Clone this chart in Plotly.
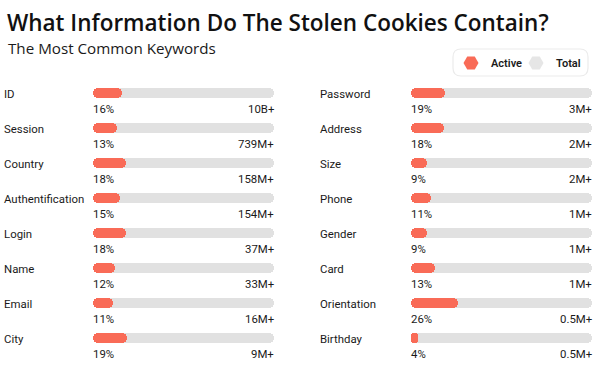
import plotly.graph_objects as go

# ---- data ----
left_keys = ["ID", "Session", "Country", "Authentification", "Login", "Name", "Email", "City"]
left_active = [16, 13, 18, 15, 18, 12, 11, 19]
left_total = ["10B+", "739M+", "158M+", "154M+", "37M+", "33M+", "16M+", "9M+"]

right_keys = ["Password", "Address", "Size", "Phone", "Gender", "Card", "Orientation", "Birthday"]
right_active = [19, 18, 9, 11, 9, 13, 26, 4]
right_total = ["3M+", "2M+", "2M+", "1M+", "1M+", "1M+", "0.5M+", "0.5M+"]

FULL = 100

W, H = 600, 375
ORANGE = "#F96B57"
GRAY = "#E1E1E1"
TXT = "#1A1A1A"
FONT = "Roboto"

fig = go.Figure()

BW = 0.27


def add_panel(keys, active, xa, ya):
    n = len(keys)
    fig.add_trace(go.Bar(
        y=keys, x=[FULL] * n, base=[0] * n, orientation="h", xaxis=xa, yaxis=ya,
        marker=dict(color=GRAY, cornerradius="50%", line_width=0),
        width=BW, showlegend=False, hoverinfo="skip"))
    fig.add_trace(go.Bar(
        y=keys, x=active, base=[0] * n, orientation="h", xaxis=xa, yaxis=ya,
        marker=dict(color=ORANGE, cornerradius="50%", line_width=0),
        width=BW, showlegend=False, hoverinfo="skip"))


add_panel(left_keys, left_active, "x", "y")
add_panel(right_keys, right_active, "x2", "y2")

# legend entries
fig.add_trace(go.Scatter(x=[None], y=[None], mode="markers", name="Active",
                         marker=dict(symbol="hexagon2", size=15, color=ORANGE)))
fig.add_trace(go.Scatter(x=[None], y=[None], mode="markers", name="Total",
                         marker=dict(symbol="hexagon2", size=15, color="#E6E6E6")))

annotations = []
FS = 11.4


def add_labels(keys, active, total, xref, yref, label_x):
    for k, a, t in zip(keys, active, total):
        annotations.append(dict(text=k, x=label_x, xref="paper", y=k, yref=yref,
                                xanchor="left", yanchor="middle", yshift=-1, showarrow=False,
                                font=dict(family=FONT, size=FS, color=TXT)))
        annotations.append(dict(text=f"{a}%", x=0, xref=xref, y=k, yref=yref, xshift=-2,
                                xanchor="left", yanchor="middle", yshift=-16, showarrow=False,
                                font=dict(family=FONT, size=FS, color=TXT)))
        annotations.append(dict(text=t, x=FULL, xref=xref, y=k, yref=yref, xshift=2,
                                xanchor="right", yanchor="middle", yshift=-16, showarrow=False,
                                font=dict(family=FONT, size=FS, color=TXT)))


add_labels(left_keys, left_active, left_total, "x", "y", 2 / W)
add_labels(right_keys, right_active, right_total, "x2", "y2", 318 / W)

annotations.append(dict(text="The Most Common Keywords", x=6 / W, y=1 - 48 / H,
                        xref="paper", yref="paper", xanchor="left", yanchor="middle",
                        showarrow=False, font=dict(family="Open Sans", size=15.2, color=TXT)))

# y range: row i centred at 93 + 35*i px from top
top_px, step = 93, 35
yr = [(H - top_px) / step, -top_px / step]

axis_off = dict(showgrid=False, zeroline=False, showticklabels=False, ticks="",
                showline=False, fixedrange=True)

fig.update_layout(
    width=W, height=H,
    margin=dict(l=0, r=0, t=0, b=0),
    paper_bgcolor="white", plot_bgcolor="white",
    barmode="overlay",
    bargap=0,
    title=dict(text="What Information Do The Stolen Cookies Contain?",
               x=7 / W, xanchor="left", y=1 - 23 / H, yanchor="middle",
               font=dict(family="Open Sans", size=22.5, color="#111111", weight=600)),
    xaxis=dict(domain=[93 / W, 274 / W], range=[0, FULL], **axis_off),
    xaxis2=dict(domain=[411 / W, 592 / W], range=[0, FULL], **axis_off),
    yaxis=dict(domain=[0, 1], range=yr, categoryorder="array", categoryarray=left_keys,
               anchor="x", **axis_off),
    yaxis2=dict(domain=[0, 1], range=yr, categoryorder="array", categoryarray=right_keys,
                anchor="x2", **axis_off),
    legend=dict(orientation="h", x=451 / W, y=1 - 63 / H, xanchor="left", yanchor="middle",
                bgcolor="rgba(0,0,0,0)", font=dict(family=FONT, size=11, color=TXT, weight=600),
                itemwidth=30, entrywidth=20, traceorder="normal"),
    annotations=annotations,
    shapes=[dict(type="path", xref="paper", yref="paper",
                 path=(f"M {461/W},{1-49/H} L {580/W},{1-49/H} "
                       f"Q {588/W},{1-49/H} {588/W},{1-57/H} L {588/W},{1-68/H} "
                       f"Q {588/W},{1-76/H} {580/W},{1-76/H} L {461/W},{1-76/H} "
                       f"Q {453/W},{1-76/H} {453/W},{1-68/H} L {453/W},{1-57/H} "
                       f"Q {453/W},{1-49/H} {461/W},{1-49/H} Z"),
                 line=dict(color="#EBEBEB", width=1.2), fillcolor="white", layer="below")],
    showlegend=True,
)

fig.write_html("out.html", config={"displayModeBar": False},
               post_script="document.body.style.margin='0';document.body.style.padding='0';")
